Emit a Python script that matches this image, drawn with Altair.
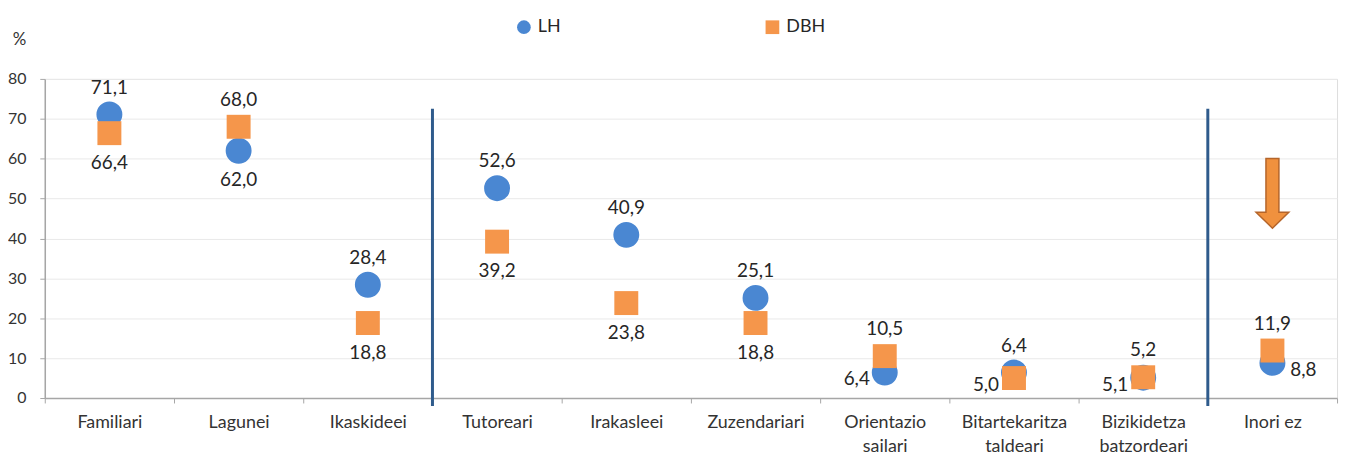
import altair as alt
import pandas as pd

categories = ["Familiari", "Lagunei", "Ikaskideei", "Tutoreari", "Irakasleei",
              "Zuzendariari", "Orientazio sailari", "Bitartekaritza taldeari",
              "Bizikidetza batzordeari", "Inori ez"]
series_names = ["LH", "DBH"]
lh_values = [71.1, 62.0, 28.4, 52.6, 40.9, 25.1, 6.4, 6.4, 5.1, 8.8]
dbh_values = [66.4, 68.0, 18.8, 39.2, 23.8, 18.8, 10.5, 5.0, 5.2, 11.9]
lh_label_pos = ["above", "below", "above", "above", "above", "above", "left", "above", "left", "right"]
dbh_label_pos = ["below", "above", "below", "below", "below", "below", "above", "left", "above", "above"]
y_ticks = [0, 10, 20, 30, 40, 50, 60, 70, 80]

# annotations
separator_after = ["Ikaskideei", "Bizikidetza batzordeari"]
separator_top = 72.5
separator_bottom = -2.0
arrow_category = ["Inori ez"]
arrow_value = [51.3]

BLUE = "#4A87D2"
ORANGE = "#F5964B"
FONT = "Lato"

rows = []
for i, c in enumerate(categories):
    rows.append({"cat": c, "series": "LH", "value": lh_values[i], "pos": lh_label_pos[i],
                 "label": f"{lh_values[i]:.1f}".replace(".", ",")})
for i, c in enumerate(categories):
    rows.append({"cat": c, "series": "DBH", "value": dbh_values[i], "pos": dbh_label_pos[i],
                 "label": f"{dbh_values[i]:.1f}".replace(".", ",")})
df = pd.DataFrame(rows)

sep_df = pd.DataFrame({"cat": separator_after,
                       "top": [separator_top] * len(separator_after),
                       "bottom": [separator_bottom] * len(separator_after)})
arrow_df = pd.DataFrame({"cat": arrow_category, "value": arrow_value})

x_enc = alt.X("cat:N", sort=categories, title=None,
              scale=alt.Scale(domain=categories, paddingInner=0, paddingOuter=0),
              axis=alt.Axis(labelExpr="datum.label == 'Inori ez' ? datum.label : split(datum.label, ' ')",
                            labelAngle=0, labelFontSize=18, labelFont=FONT, labelColor="#333333",
                            labelLineHeight=24, labelPadding=11, labelBaseline="top",
                            labelAlign="center", labelOffset=0,
                            tickBand="extent", tickSize=5, tickColor="#A6A6A6",
                            domainColor="#A6A6A6", domainWidth=1.5, grid=False))
y_enc = alt.Y("value:Q", title="%",
              scale=alt.Scale(domain=[0, 80], nice=False, zero=True),
              axis=alt.Axis(values=y_ticks, labelFontSize=16, labelFont=FONT, labelColor="#333333",
                            labelPadding=14, tickSize=5, tickColor="#A6A6A6",
                            domainColor="#A6A6A6", domainWidth=1.5,
                            gridColor="#E9E9E9", gridWidth=1,
                            titleAngle=0, titleX=-26, titleY=-40, titleAlign="center",
                            titleBaseline="middle", titleFontSize=17, titleFont=FONT,
                            titleFontWeight="normal", titleColor="#333333"))

points = alt.Chart(df).transform_calculate(
    order="datum.series == 'LH' ? 0 : 1",
).mark_point(filled=True, opacity=1).encode(
    x=x_enc,
    y=y_enc,
    color=alt.Color("series:N", scale=alt.Scale(domain=series_names, range=[BLUE, ORANGE]), legend=None),
    shape=alt.Shape("series:N", scale=alt.Scale(domain=series_names, range=["circle", "square"]), legend=None),
    size=alt.Size("series:N", scale=alt.Scale(domain=series_names, range=[680, 580]), legend=None),
    order=alt.Order("order:Q"),
)

legend_layer = alt.Chart(df).transform_filter("false").transform_calculate(
    lg="datum.series"
).mark_point(filled=True, opacity=1, size=190).encode(
    x=alt.X("cat:N", sort=categories),
    y=alt.Y("value:Q"),
    color=alt.Color("lg:N", scale=alt.Scale(domain=series_names, range=[BLUE, ORANGE]),
                    legend=alt.Legend(title=None, orient="none", direction="horizontal",
                                      legendX=473, legendY=-61, columnPadding=204,
                                      labelFontSize=18, labelFont=FONT, labelColor="#262626",
                                      symbolSize=190, labelOffset=5, symbolStrokeWidth=0)),
    shape=alt.Shape("lg:N", scale=alt.Scale(domain=series_names, range=["circle", "square"])),
)

def label_layer(pos, dx, dy, align, baseline="middle"):
    return alt.Chart(df).transform_filter(alt.datum.pos == pos).mark_text(
        dx=dx, dy=dy, align=align, baseline=baseline, fontSize=19, font=FONT, color="#262626"
    ).encode(x=alt.X("cat:N", sort=categories), y=alt.Y("value:Q"), text="label:N")

labels = [
    label_layer("above", 0, -27, "center"),
    label_layer("below", 0, 30, "center"),
    label_layer("left", -15, 7, "right"),
    label_layer("right", 18, 7, "left"),
]

separators = alt.Chart(sep_df).mark_rule(color="#2F5B8C", strokeWidth=3).encode(
    x=alt.X("cat:N", sort=categories, bandPosition=1),
    y=alt.Y("top:Q"),
    y2="bottom:Q",
)

arrow_path = "M -0.186 -1 L 0.186 -1 L 0.186 0.543 L 0.471 0.543 L 0 1 L -0.471 0.543 L -0.186 0.543 Z"
arrow = alt.Chart(arrow_df).mark_point(
    shape=arrow_path, filled=True, fill="#F0913E", stroke="#B5652A", strokeWidth=1.5,
    size=4900, opacity=1
).encode(x=alt.X("cat:N", sort=categories), y=alt.Y("value:Q"))

chart = alt.layer(separators, points, legend_layer, *labels, arrow).resolve_scale(
    color="independent", shape="independent", size="independent"
).properties(
    width=1300, height=321,
    autosize=alt.AutoSizeParams(type="none"),
    padding={"left": 37, "top": 70, "right": 7, "bottom": 56},
).configure_view(stroke=None).configure(font=FONT)

chart.save("out.html", embed_options={"renderer": "svg", "actions": False})
